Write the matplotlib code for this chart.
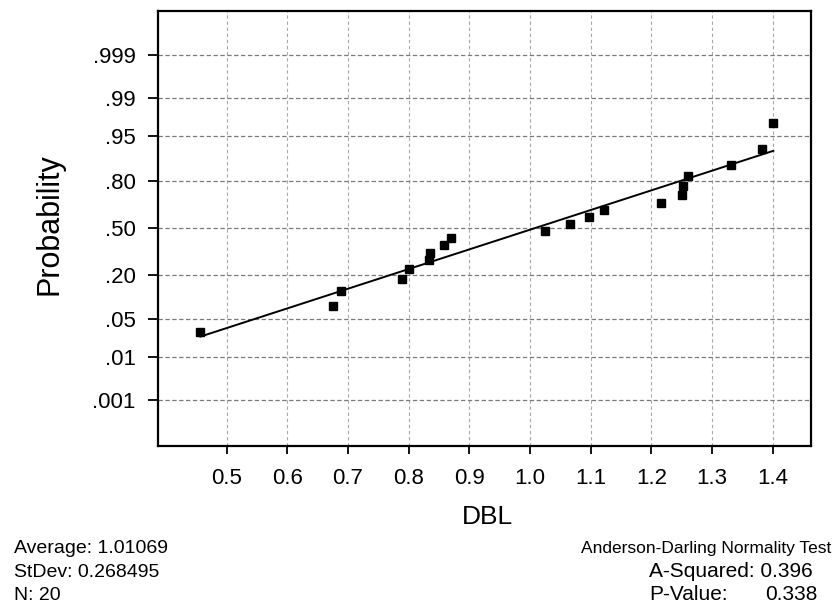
"""Normal probability plot of DBL with Anderson-Darling summary."""

from statistics import NormalDist

import matplotlib
matplotlib.use("Agg")
import matplotlib.pyplot as plt
import numpy as np

# DBL measurements (n = 20)
dbl = [0.457, 0.676, 0.688, 0.789, 0.801, 0.833, 0.835, 0.858, 0.870, 1.025,
       1.066, 1.097, 1.122, 1.216, 1.251, 1.252, 1.261, 1.332, 1.383, 1.401]

prob_ticks  = [0.001, 0.01, 0.05, 0.20, 0.50, 0.80, 0.95, 0.99, 0.999]
prob_labels = [".001", ".01", ".05", ".20", ".50", ".80", ".95", ".99", ".999"]
x_ticks     = [0.5, 0.6, 0.7, 0.8, 0.9, 1.0, 1.1, 1.2, 1.3, 1.4]
x_labels    = ["0.5", "0.6", "0.7", "0.8", "0.9", "1.0", "1.1", "1.2", "1.3", "1.4"]

stats_left  = ["Average: 1.01069", "StDev: 0.268495", "N: 20"]
ad_title    = "Anderson-Darling Normality Test"
ad_asq      = "A-Squared: 0.396"
ad_pname    = "P-Value:"
ad_pvalue   = "0.338"

plt.rcParams["font.family"] = ["Liberation Sans", "DejaVu Sans"]

_nd = NormalDist()
_ppf_scalar = np.vectorize(_nd.inv_cdf, otypes=[float])
_cdf = np.vectorize(_nd.cdf, otypes=[float])


def prob_to_z(p):
    p = np.clip(np.asarray(p, dtype=float), 1e-12, 1 - 1e-12)
    return _ppf_scalar(p)


def z_to_prob(z):
    return _cdf(np.asarray(z, dtype=float))


# plotting positions (Blom) for the sorted sample
x = np.sort(np.array(dbl))
n = len(x)
pos = (np.arange(1, n + 1) - 0.375) / (n + 0.25)
zs = prob_to_z(pos)

# least-squares line of normal score on DBL
slope, icpt = np.polyfit(x, zs, 1)
line_x = np.array([x.min(), x.max()])
line_p = z_to_prob(icpt + slope * line_x)

fig = plt.figure(figsize=(8.34, 6.03), dpi=100)
ax = fig.add_axes([0.1894, 0.2609, 0.783, 0.7214])
ax.set_yscale("function", functions=(prob_to_z, z_to_prob))

for xv in x_ticks:
    ax.axvline(xv, color="#a8a8a8", lw=0.8, ls=(0, (3, 2.5)), zorder=1)
for pv in prob_ticks:
    ax.axhline(pv, color="#7a7a7a", lw=0.9, ls=(0, (3.5, 2)), zorder=1)

ax.plot(line_x, line_p, color="black", lw=1.4, zorder=2)
ax.plot(x, pos, ls="none", marker="s", ms=5.2, color="black", zorder=3)

ax.set_xlim(0.387, 1.463)
ax.set_ylim(z_to_prob(-3.91), z_to_prob(3.89))
ax.set_xticks(x_ticks)
ax.set_xticklabels(x_labels)
ax.set_yticks(prob_ticks)
ax.set_yticklabels(prob_labels)
ax.minorticks_off()
ax.tick_params(axis="x", direction="out", length=5.5, width=1.3, pad=10.5, labelsize=16)
ax.tick_params(axis="y", direction="out", length=7, width=1.3, pad=9, labelsize=16)
for sp in ax.spines.values():
    sp.set_linewidth(1.6)

ax.set_ylabel("Probability", fontsize=22)
ax.yaxis.set_label_coords(-0.143, 0.51)
ax.set_xlabel("DBL", fontsize=19)
ax.xaxis.set_label_coords(0.5046, -0.1365)

# summary statistics under the plot
for i, s in enumerate(stats_left):
    fig.text(14 / 834, 1 - (553 + 23.7 * i) / 603, s,
             fontsize=14, va="baseline", ha="left")
fig.text(831 / 834, 1 - 553 / 603, ad_title,
         fontsize=12.5, va="baseline", ha="right")
fig.text(649 / 834, 1 - 576.7 / 603, ad_asq, fontsize=15, va="baseline", ha="left")
fig.text(649 / 834, 1 - 600.2 / 603, ad_pname, fontsize=15, va="baseline", ha="left")
fig.text(818 / 834, 1 - 600.2 / 603, ad_pvalue, fontsize=15, va="baseline", ha="right")

fig.savefig("out.png", dpi=100)
